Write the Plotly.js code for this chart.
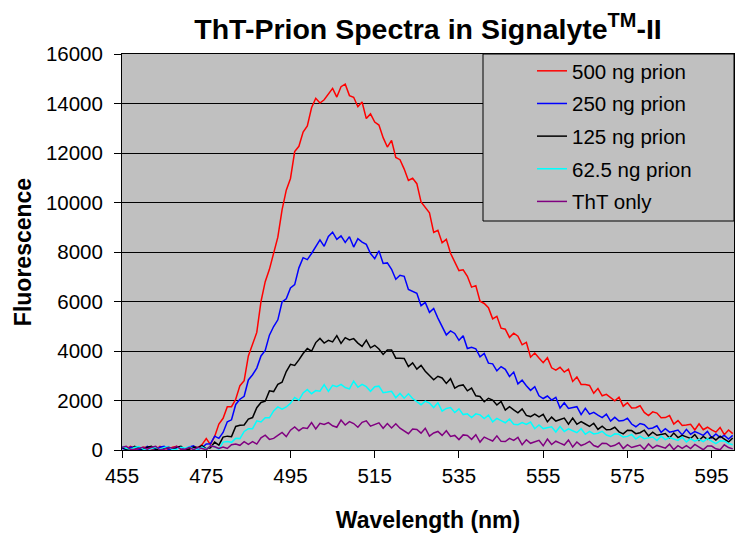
<!DOCTYPE html>
<html>
<head>
<meta charset="utf-8">
<script src="https://cdn.plot.ly/plotly-3.0.1.min.js"></script>
<style>html,body{margin:0;padding:0;background:#fff;}#chart{width:742px;height:534px;}</style>
</head>
<body>
<div id="chart"></div>
<script>
// Wavelength axis (nm), 1 nm steps from 455 to 600
const wavelength = [];
for (let w = 455; w <= 600; w++) wavelength.push(w);

const seriesNames = ["500 ng prion", "250 ng prion", "125 ng prion", "62.5 ng prion", "ThT only"];
const seriesColors = ["#FF0000", "#0000FF", "#000000", "#00FFFF", "#800080"];

const prion500 = [
  110, 30, 150, 70, 10, 110, 110, 30, 10, 150,
  70, 30, 110, 150, 30, 10, 90, 140, 90, 220,
  460, 220, 550, 1050, 1280, 1750, 1750, 2050, 2600, 2800,
  3800, 4300, 4750, 6000, 6800, 7300, 8000, 8600, 9700, 10500,
  10970, 12060, 12270, 12850, 13090, 13830, 14210, 14020, 14150, 14400,
  14610, 14260, 14680, 14780, 14320, 14250, 13870, 14060, 13390, 13580,
  13250, 13130, 12620, 12240, 12510, 11820, 11730, 11350, 10890, 10980,
  10760, 10020, 9800, 9580, 8790, 8880, 8370, 8510, 7950, 7570,
  7250, 7280, 7020, 6580, 6640, 6010, 5920, 5750, 5300, 5400,
  4920, 4880, 4550, 4720, 4600, 4250, 4350, 3750, 3920, 3720,
  3530, 3730, 3320, 3230, 3340, 3150, 3270, 2770, 2950, 2650,
  2650, 2610, 2290, 2480, 2190, 2250, 2110, 1990, 2130, 1770,
  1910, 1700, 1710, 1790, 1520, 1390, 1540, 1490, 1300, 1310,
  1390, 1050, 1190, 990, 1010, 1040, 810, 1060, 820, 920,
  810, 720, 910, 620, 810, 660
];
const prion250 = [
  70, 10, 110, 110, 30, 10, 150, 70, 30, 110,
  150, 30, 10, 70, 110, 30, 120, 170, 30, 90,
  240, 250, 560, 470, 710, 1140, 1220, 1840, 2050, 2170,
  2830, 3040, 3310, 3800, 4020, 4640, 4990, 5260, 5980, 6110,
  6550, 6680, 7360, 7770, 7690, 7940, 8200, 8490, 8230, 8630,
  8800, 8510, 8650, 8390, 8620, 8200, 8540, 8400, 8310, 7940,
  7730, 8050, 7540, 7560, 7300, 6900, 7060, 7020, 6490, 6400,
  6330, 5830, 5960, 5560, 5720, 5330, 4970, 4650, 4810, 4710,
  4430, 4620, 4100, 4150, 4090, 3760, 3900, 3510, 3480, 3200,
  3370, 3260, 2970, 3150, 2670, 2820, 2600, 2410, 2560, 2190,
  2080, 2180, 2020, 2130, 1700, 1910, 1680, 1720, 1750, 1430,
  1680, 1450, 1520, 1410, 1310, 1450, 1170, 1320, 1170, 1190,
  1280, 1050, 940, 1070, 1020, 860, 890, 980, 710, 860,
  720, 760, 805, 610, 835, 640, 745, 670, 590, 750,
  490, 650, 500, 590, 440, 590
];
const prion125 = [
  110, 30, 10, 150, 70, 30, 110, 150, 30, 10,
  70, 110, 30, 110, 150, 10, 30, 120, 90, 180,
  50, 90, 320, 200, 520, 560, 540, 950, 1000, 1010,
  1250, 1310, 1710, 1920, 1970, 2390, 2360, 2650, 2740, 3170,
  3460, 3420, 3640, 3900, 4100, 3990, 4340, 4510, 4320, 4430,
  4370, 4620, 4310, 4540, 4450, 4500, 4320, 4190, 4440, 4130,
  4230, 4080, 3860, 4040, 4040, 3710, 3710, 3700, 3370, 3520,
  3270, 3420, 3180, 3020, 2840, 2980, 2910, 2690, 2880, 2500,
  2600, 2630, 2390, 2500, 2190, 2160, 1950, 2090, 2020, 1820,
  1960, 1610, 1750, 1620, 1500, 1660, 1400, 1350, 1450, 1340,
  1440, 1140, 1330, 1170, 1230, 1290, 1040, 1290, 1040, 1150,
  1050, 955, 1080, 830, 965, 815, 830, 920, 735, 650,
  800, 785, 660, 700, 800, 570, 720, 595, 630, 665,
  485, 685, 500, 595, 530, 465, 620, 390, 545, 425,
  525, 405, 560, 440, 325, 485
];
const prion62 = [
  140, 70, 35, 105, 140, 35, 10, 70, 105, 35,
  105, 140, 10, 35, 105, 70, 140, 35, 40, 115,
  20, 170, 130, 30, 320, 340, 310, 470, 460, 750,
  860, 860, 1180, 1130, 1300, 1300, 1580, 1740, 1650, 1740,
  1890, 2125, 2010, 2305, 2440, 2275, 2400, 2375, 2640, 2370,
  2615, 2560, 2655, 2525, 2470, 2780, 2535, 2655, 2560, 2370,
  2555, 2580, 2315, 2340, 2375, 2110, 2285, 2095, 2270, 2080,
  1965, 1830, 1975, 1895, 1715, 1910, 1570, 1680, 1715, 1515,
  1660, 1430, 1460, 1310, 1460, 1420, 1270, 1410, 1140, 1280,
  1190, 1100, 1250, 1040, 1020, 1110, 1030, 1130, 860, 1010,
  865, 900, 935, 730, 950, 750, 855, 780, 700, 860,
  635, 755, 650, 680, 755, 605, 545, 655, 635, 525,
  550, 630, 440, 560, 455, 490, 525, 385, 560, 420,
  500, 445, 390, 515, 325, 455, 355, 435, 335, 460,
  355, 255, 375, 365, 265, 210
];
const thtOnly = [
  110, 150, 30, 10, 70, 110, 30, 110, 150, 10,
  30, 110, 70, 150, 30, 30, 110, 10, 110, 70,
  10, 165, 130, 60, 120, 60, 210, 240, 190, 340,
  230, 340, 240, 490, 600, 430, 470, 590, 710, 540,
  800, 930, 780, 900, 870, 1110, 850, 1080, 1030, 1110,
  980, 920, 1210, 1010, 1145, 1070, 920, 1120, 1180, 965,
  1030, 1095, 880, 1070, 890, 1060, 880, 760, 660, 850,
  830, 680, 880, 560, 690, 750, 590, 780, 550, 590,
  420, 610, 590, 430, 620, 320, 520, 440, 365, 570,
  350, 340, 470, 390, 510, 210, 415, 270, 330, 390,
  170, 440, 220, 355, 275, 200, 405, 120, 325, 180,
  245, 350, 180, 120, 275, 265, 145, 190, 290, 60,
  215, 100, 150, 200, 30, 245, 75, 185, 130, 75,
  235, 15, 175, 65, 175, 60, 225, 110, 10, 165,
  160, 50, 10, 210, 100, 45
];

const xTicks = [455, 475, 495, 515, 535, 555, 575, 595];
const yTicks = [0, 2000, 4000, 6000, 8000, 10000, 12000, 14000, 16000];

const allSeries = [prion500, prion250, prion125, prion62, thtOnly];
const FONT = "Arial, 'Liberation Sans', sans-serif";

const traces = allSeries.map((ys, i) => ({
  type: "scatter",
  mode: "lines",
  x: wavelength,
  y: ys,
  name: seriesNames[i],
  legendgroup: "g" + i,
  line: { color: seriesColors[i], width: 1.5 }
}));

const layout = {
  width: 742,
  height: 534,
  margin: { l: 122, r: 8, t: 54, b: 84 },
  paper_bgcolor: "#FFFFFF",
  plot_bgcolor: "#C0C0C0",
  font: { family: FONT, size: 20.5, color: "#000" },
  title: {
    text: "ThT-Prion Spectra in Signalyte<sup>TM</sup>-II",
    font: { family: FONT, size: 28.5, weight: "bold", color: "#000" },
    xref: "paper", x: 0.5, xanchor: "center",
    yref: "container", y: 1 - 29 / 534, yanchor: "middle"
  },
  xaxis: {
    range: [455, 600.3],
    tickvals: xTicks,
    ticktext: xTicks.map(String),
    ticks: "outside", ticklen: 7, tickwidth: 1, tickcolor: "#000",
    showline: true, linecolor: "#000", linewidth: 1, mirror: true,
    showgrid: false, zeroline: false,
    tickfont: { family: FONT, size: 20.5, color: "#000" },
    ticklabelstandoff: 0,
    title: { text: "Wavelength (nm)", font: { family: FONT, size: 23, weight: "bold", color: "#000" }, standoff: 26 },
    automargin: false
  },
  yaxis: {
    range: [0, 16000],
    tickvals: yTicks,
    ticktext: yTicks.map(String),
    ticks: "outside", ticklen: 7, tickwidth: 1, tickcolor: "#000",
    showline: true, linecolor: "#000", linewidth: 1, mirror: true,
    showgrid: true, gridcolor: "#000", gridwidth: 1, zeroline: false,
    tickfont: { family: FONT, size: 20.5, color: "#000" },
    ticklabelstandoff: 7,
    title: { text: "Fluorescence", font: { family: FONT, size: 23, weight: "bold", color: "#000" }, standoff: 7 },
    automargin: false
  },
  showlegend: true,
  legend: {
    x: (532 - 122) / 612, xanchor: "left",
    y: 1 + 3 / 396, yanchor: "top",
    bgcolor: "rgba(0,0,0,0)", borderwidth: 0,
    font: { family: FONT, size: 20.5, color: "#000" },
    tracegroupgap: 3,
    traceorder: "grouped"
  },
  shapes: [{
    type: "rect", xref: "paper", yref: "paper", layer: "above",
    x0: (483 - 122) / 612, x1: (734 - 122) / 612,
    y0: 1 - (221 - 54) / 396, y1: 1,
    fillcolor: "#C0C0C0", line: { color: "#000", width: 1 }
  }]
};

Plotly.newPlot("chart", traces, layout, { displayModeBar: false, staticPlot: true });
</script>
</body>
</html>
